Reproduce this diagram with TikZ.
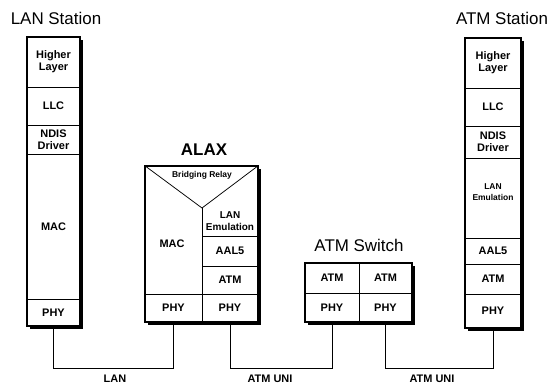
\documentclass[tikz,border=0pt]{standalone}
\usepackage{fontspec}
\setmainfont{Liberation Sans}
\usetikzlibrary{fit,shadows}
\begin{document}
\begin{tikzpicture}[x=1bp,y=-1bp,
  frame/.style={draw, line width=1.2pt, fill=white, inner sep=0pt,
    drop shadow={shadow xshift=2.5bp, shadow yshift=-2.5bp, fill=black, opacity=1}},
  cell/.style={draw, line width=0.75pt, inner sep=0pt},
  txt/.style={font=\bfseries\fontsize{11}{12}\selectfont, align=center, inner sep=0pt},
  small/.style={font=\bfseries\fontsize{8.5}{9.5}\selectfont, align=center, inner sep=0pt},
  title/.style={font=\fontsize{17}{19}\selectfont, inner sep=0pt},
  wire/.style={line width=0.75pt},
  lbl/.style={font=\bfseries\fontsize{11}{12}\selectfont, inner sep=0pt}]
\newcommand\mkcell[6]{\node[cell, fit={(#2,#3) (#4,#5)}] (#1) {};
  \node[txt] (#1t) at (#1.center) {#6};}
\useasboundingbox (0,0) rectangle (553,386);

% LAN Station
\node[title] (lantitle) at (56,18) {LAN Station};
\node[frame, fit={(27,37) (80,326)}] (lan) {};
\mkcell{lhl}{27}{37}{80}{87}{Higher\\Layer}
\mkcell{lllc}{27}{87}{80}{125}{LLC}
\mkcell{lndis}{27}{125}{80}{154}{NDIS\\Driver}
\mkcell{lmac}{27}{154}{80}{299}{MAC}
\mkcell{lphy}{27}{299}{80}{326}{PHY}

% ALAX
\node[title] (alaxtitle) at (204,150) {\bfseries ALAX};
\node[frame, fit={(145,166) (258,322)}] (alax) {};
\coordinate (apex) at (202,208);
\draw[wire] (alax.north west) -- (apex) -- (alax.north east);
\draw[wire] (apex) -- (apex |- alax.south);
\node[small] (bridge) at (202,175) {Bridging Relay};
\node[txt] (amac) at (172,244) {MAC};
\node[cell, fit={(202,236) (258,266)}] (aaal) {};
\node[txt] (aaalt) at (aaal.center) {AAL5};
\node[cell, fit={(202,266) (258,294)}] (aatm) {};
\node[txt] (aatmt) at (aatm.center) {ATM};
\node[txt, font=\bfseries\fontsize{10}{11.5}\selectfont] (alane) at (230,221) {LAN\\Emulation};
\mkcell{aphyl}{145}{294}{202}{322}{PHY}
\mkcell{aphyr}{202}{294}{258}{322}{PHY}

% ATM Switch
\node[title] (swtitle) at (359,245) {ATM Switch};
\node[frame, fit={(305,263) (412,322)}] (sw) {};
\mkcell{satml}{305}{263}{359}{293}{ATM}
\mkcell{satmr}{359}{263}{412}{293}{ATM}
\mkcell{sphyl}{305}{293}{359}{322}{PHY}
\mkcell{sphyr}{359}{293}{412}{322}{PHY}

% ATM Station
\node[title] (atmtitle) at (502,18) {ATM Station};
\node[frame, fit={(465,38) (521,328)}] (atms) {};
\mkcell{thl}{465}{38}{521}{88}{Higher\\Layer}
\mkcell{tllc}{465}{88}{521}{126}{LLC}
\mkcell{tndis}{465}{126}{521}{158}{NDIS\\Driver}
\node[cell, fit={(465,158) (521,238)}] (tlane) {};
\node[txt, font=\bfseries\fontsize{8.5}{11}\selectfont] (tlanet) at (493,192) {LAN\\Emulation};
\mkcell{taal}{465}{238}{521}{264}{AAL5}
\mkcell{tatm}{465}{264}{521}{294}{ATM}
\mkcell{tphy}{465}{294}{521}{328}{PHY}

% connectors
\coordinate (bus) at (0,368);
\draw[wire] (lphy.south) -- (lphy.south |- bus) -- (aphyl.south |- bus) -- (aphyl.south);
\draw[wire] (aphyr.south) -- (aphyr.south |- bus) -- (sphyl.south |- bus) -- (sphyl.south);
\draw[wire] (sphyr.south) -- (sphyr.south |- bus) -- (tphy.south |- bus) -- (tphy.south);
\node[lbl] (lanlbl) at (115,379) {LAN};
\node[lbl] (uni1) at (270,379) {ATM UNI};
\node[lbl] (uni2) at (432,379) {ATM UNI};
\end{tikzpicture}
\end{document}
